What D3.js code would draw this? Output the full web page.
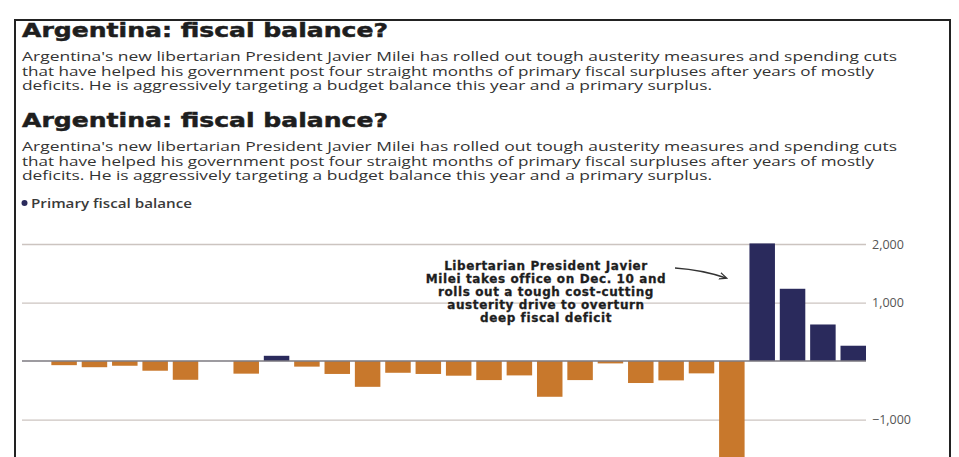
<!DOCTYPE html>
<html>
<head>
<meta charset="utf-8">
<script src="https://cdn.jsdelivr.net/npm/d3@7"></script>
<style>
  html, body { margin: 0; padding: 0; background: #fff; }
  #chart { width: 959px; height: 457px; }
</style>
</head>
<body>
<div id="chart"></div>
<script>
// months Jan 2022 .. Apr 2024, primary fiscal balance (billion pesos)
const months = [
  "2022-01","2022-02","2022-03","2022-04","2022-05","2022-06","2022-07","2022-08",
  "2022-09","2022-10","2022-11","2022-12","2023-01","2023-02","2023-03","2023-04",
  "2023-05","2023-06","2023-07","2023-08","2023-09","2023-10","2023-11","2023-12",
  "2024-01","2024-02","2024-03","2024-04"
];
const balance = [
  0, -70, -105, -80, -165, -320, 0, -215,
  90, -95, -220, -440, -200, -220, -250, -325,
  -245, -610, -325, -40, -375, -330, -210, -1900,
  2010, 1235, 625, 262
];
const yTicks = [2000, 1000, -1000];

const titleText = "Argentina: fiscal balance?";
const subLines = [
  "Argentina's new libertarian President Javier Milei has rolled out tough austerity measures and spending cuts",
  "that have helped his government post four straight months of primary fiscal surpluses after years of mostly",
  "deficits. He is aggressively targeting a budget balance this year and a primary surplus."
];
const legendLabel = "Primary fiscal balance";
const noteLines = [
  "Libertarian President Javier",
  "Milei takes office on Dec. 10 and",
  "rolls out a tough cost-cutting",
  "austerity drive to overturn",
  "deep fiscal deficit"
];

(() => {
  const W = 959, H = 457;
  const navy = "#2a2a5c", orange = "#c8782c";
  const data = months.map((m, i) => ({ month: m, value: balance[i] }));

  const root = d3.select("#chart").append("svg")
    .attr("width", W).attr("height", H)
    .attr("viewBox", `0 0 ${W} ${H}`);

  root.append("rect").attr("width", W).attr("height", H).attr("fill", "#fff");

  // 外框（底边被截掉）
  root.append("path")
    .attr("d", `M15,${H} L15,20 L950,20 L950,${H}`)
    .attr("fill", "none")
    .attr("stroke", "#222")
    .attr("stroke-width", 2);

  // === 标题 + 说明（图里重复了两遍）===
  const subWidths = [875, 852, 690];
  [0, 90].forEach(dy => {
    root.append("text")
      .attr("x", 22).attr("y", 37 + dy)
      .attr("font-family", "DejaVu Sans, sans-serif")
      .attr("font-weight", "bold")
      .attr("font-size", 20)
      .attr("fill", "#1e1e1e")
      .attr("stroke", "#1e1e1e")
      .attr("stroke-width", 0.5)
      .attr("textLength", 366)
      .attr("lengthAdjust", "spacingAndGlyphs")
      .text(titleText);

    subLines.forEach((s, i) => {
      root.append("text")
        .attr("x", 22).attr("y", 61 + dy + i * 14.5)
        .attr("font-family", "Open Sans, sans-serif")
        .attr("font-size", 13.4)
        .attr("fill", "#333")
        .attr("textLength", subWidths[i])
        .attr("lengthAdjust", "spacingAndGlyphs")
        .text(s);
    });
  });

  // legend
  root.append("circle").attr("cx", 24.5).attr("cy", 203).attr("r", 3).attr("fill", navy);
  root.append("text")
    .attr("x", 31).attr("y", 207.5)
    .attr("font-family", "Open Sans, sans-serif")
    .attr("font-weight", 600)
    .attr("font-size", 12.5)
    .attr("fill", "#3a3a3a")
    .attr("textLength", 161)
    .attr("lengthAdjust", "spacingAndGlyphs")
    .text(legendLabel);

  // === scales ===
  const x = d3.scaleBand()
    .domain(months)
    .range([21, 866])
    .paddingInner(0.16)
    .paddingOuter(0);

  const y = d3.scaleLinear()
    .domain([-1000, 2000])
    .range([419.6, 244]);

  // gridlines + right labels
  const yAxis = root.append("g")
    .attr("transform", "translate(866,0)")
    .call(d3.axisRight(y).tickValues(yTicks).tickSize(-844).tickPadding(6)
      .tickFormat(d => d3.format(",")(d).replace("-", "\u2212")));
  yAxis.select(".domain").remove();
  yAxis.selectAll("line").attr("stroke", "#ccc4c0").attr("stroke-width", 1.3);
  yAxis.selectAll("text")
    .attr("fill", "#555")
    .attr("font-family", "Open Sans, sans-serif")
    .attr("font-size", 12.5)
    .style("font-family", "Open Sans, sans-serif");

  // bars
  root.append("g").selectAll("rect")
    .data(data.filter(d => d.value !== 0))
    .join("rect")
    .attr("x", d => x(d.month))
    .attr("y", d => y(Math.max(0, d.value)))
    .attr("width", x.bandwidth())
    .attr("height", d => Math.abs(y(d.value) - y(0)))
    .attr("fill", d => d.value > 0 ? navy : orange);

  // zero line
  root.append("line")
    .attr("x1", 22).attr("x2", 866)
    .attr("y1", y(0)).attr("y2", y(0))
    .attr("stroke", "#7d7a80")
    .attr("stroke-width", 1.5);

  // === annotation ===
  const note = root.append("text")
    .attr("font-family", "DejaVu Sans, sans-serif")
    .attr("font-weight", "bold")
    .attr("font-size", 12)
    .attr("letter-spacing", 0.6)
    .attr("fill", "#1e1e1e")
    .attr("stroke", "#1e1e1e")
    .attr("stroke-width", 0.3)
    .attr("text-anchor", "middle");
  noteLines.forEach((s, i) => {
    note.append("tspan")
      .attr("x", 546)
      .attr("y", 269.5 + i * 13.2)
      .text(s);
  });

  root.append("defs").append("marker")
    .attr("id", "arrow")
    .attr("viewBox", "0 0 10 10")
    .attr("refX", 8).attr("refY", 5)
    .attr("markerWidth", 6).attr("markerHeight", 6)
    .attr("orient", "auto")
    .append("path")
    .attr("d", "M0,1 L9,5 L0,9")
    .attr("fill", "none")
    .attr("stroke", "#333")
    .attr("stroke-width", 1.5);

  root.append("path")
    .attr("d", "M675,268 Q703,270 726,278")
    .attr("fill", "none")
    .attr("stroke", "#333")
    .attr("stroke-width", 1.4)
    .attr("marker-end", "url(#arrow)");
})();
</script>
</body>
</html>
